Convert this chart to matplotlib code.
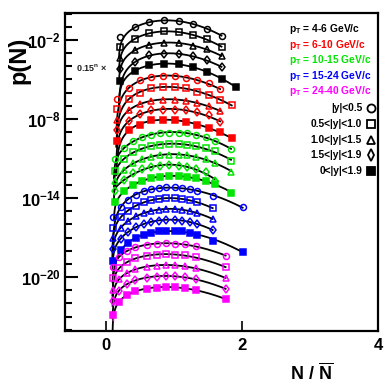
import numpy as np
import matplotlib
matplotlib.use('Agg')
import matplotlib.pyplot as plt
from matplotlib.ticker import FixedLocator, FuncFormatter, NullFormatter

plt.rcParams['font.family'] = ['Liberation Sans', 'DejaVu Sans']
plt.rcParams['font.weight'] = 'bold'
plt.rcParams['mathtext.fontset'] = 'custom'
plt.rcParams['mathtext.rm'] = 'Liberation Sans:bold'
plt.rcParams['mathtext.bf'] = 'Liberation Sans:bold'
plt.rcParams['mathtext.it'] = 'Liberation Sans:bold'
plt.rcParams['mathtext.sf'] = 'Liberation Sans:bold'

# ---------------- data (log10 of unscaled p(N)) ----------------
pt_bins = ["4-6", "6-10", "10-15", "15-24", "24-40"]
pt_colors = ["#000000", "#ff0000", "#00e600", "#0000ff", "#ff00ff"]
y_bins = ["|y|<0.5", "0.5<|y|<1.0", "1.0<|y|<1.5", "1.5<|y|<1.9", "0<|y|<1.9"]
scale_base = 0.15

x_pt1 = [0.21, 0.43, 0.64, 0.85, 1.07, 1.28, 1.49, 1.70, 1.92]
x_pt2 = [0.17, 0.34, 0.50, 0.67, 0.84, 1.01, 1.18, 1.34, 1.51, 1.68, 1.85]
x_pt3 = [0.13, 0.27, 0.40, 0.53, 0.67, 0.80, 0.93, 1.07, 1.20, 1.33, 1.47, 1.60, 1.84]
x_pt4 = [0.107, 0.22, 0.32, 0.45, 0.56, 0.67, 0.78, 0.89, 1.01, 1.12, 1.24, 1.34, 1.57, 2.01]
x_pt5 = [0.108, 0.196, 0.304, 0.426, 0.61, 0.745, 0.88, 1.015, 1.16, 1.33, 1.76]

logp_pt1 = [
    [-1.77, -1.04, -0.66, -0.50, -0.56, -0.81, -1.14, -1.67],
    [-1.71, -1.08, -0.67, -0.52, -0.57, -0.82, -1.13, -1.69],
    [-1.69, -1.13, -0.71, -0.56, -0.58, -0.79, -1.06, -1.57],
    [-1.71, -1.20, -0.69, -0.57, -0.59, -0.77, -1.07, -1.58],
    [-1.79, -1.03, -0.62, -0.52, -0.55, -0.75, -1.11, -1.68, -2.29],
]
logp_pt2 = [
    [-2.34, -1.52, -0.95, -0.70, -0.61, -0.61, -0.73, -0.92, -1.17, -1.64],
    [-2.30, -1.52, -1.05, -0.70, -0.63, -0.63, -0.70, -1.00, -1.24, -1.59, -2.01],
    [-2.28, -1.57, -1.09, -0.84, -0.76, -0.76, -0.84, -1.01, -1.24, -1.64],
    [-2.27, -1.58, -1.03, -0.75, -0.70, -0.70, -0.75, -0.91, -1.14, -1.64],
    [-2.25, -1.44, -1.01, -0.68, -0.63, -0.68, -0.81, -1.01, -1.26, -1.57, -2.06],
]
logp_pt3 = [
    [-2.82, -1.98, -1.43, -1.13, -0.95, -0.84, -0.79, -0.79, -0.84, -0.95, -1.13, -1.40, -2.06],
    [-2.85, -1.98, -1.44, -1.14, -0.99, -0.91, -0.87, -0.87, -0.91, -0.99, -1.14, -1.40, -2.10],
    [-2.80, -2.00, -1.45, -1.15, -0.98, -0.88, -0.83, -0.83, -0.88, -0.98, -1.15, -1.42, -2.11],
    [-2.78, -1.95, -1.42, -1.12, -0.96, -0.86, -0.82, -0.84, -0.92, -1.05, -1.30, -2.00],
    [-2.80, -1.97, -1.44, -1.14, -0.97, -0.87, -0.82, -0.82, -0.87, -0.97, -1.14, -1.40, -2.05],
]
logp_pt4 = [
    [-3.10, -2.30, -1.80, -1.40, -1.12, -0.97, -0.88, -0.83, -0.83, -0.88, -0.97, -1.12, -1.50, -2.34],
    [-3.10, -2.28, -1.78, -1.40, -1.13, -0.98, -0.89, -0.84, -0.84, -0.89, -0.98, -1.13, -1.60],
    [-3.05, -2.25, -1.76, -1.38, -1.12, -0.97, -0.88, -0.84, -0.84, -0.88, -0.97, -1.12, -1.60],
    [-3.05, -2.25, -1.76, -1.38, -1.12, -0.97, -0.88, -0.84, -0.84, -0.88, -0.97, -1.12, -1.62],
    [-3.10, -2.30, -1.80, -1.40, -1.12, -0.97, -0.88, -0.83, -0.83, -0.88, -0.97, -1.12, -1.60, -2.41],
]
logp_pt5 = [
    [-2.73, -2.00, -1.55, -1.27, -1.08, -1.00, -0.97, -0.98, -1.03, -1.20, -1.90],
    [-2.80, -2.05, -1.57, -1.28, -1.09, -1.01, -0.98, -0.99, -1.04, -1.21, -1.96],
    [-2.85, -2.05, -1.58, -1.28, -1.09, -1.01, -0.98, -0.99, -1.04, -1.21, -1.96],
    [-2.90, -2.08, -1.60, -1.29, -1.10, -1.02, -0.99, -1.00, -1.05, -1.22, -1.96],
    [-3.12, -2.10, -1.62, -1.30, -1.10, -1.03, -1.00, -1.01, -1.06, -1.22, -1.91],
]
# error bars (in decades) on the first point of the highest-pT rows
err_first_pt5 = [0.10, 0.15, 0.20, 0.30, 0.35]

x_all = [x_pt1, x_pt2, x_pt3, x_pt4, x_pt5]
logp_all = [logp_pt1, logp_pt2, logp_pt3, logp_pt4, logp_pt5]

# ---------------- figure ----------------
W, H = 387, 391
fig = plt.figure(figsize=(W / 100, H / 100), dpi=100)
L, R, T, B = 65, 378, 13, 331
ax = fig.add_axes([L / W, 1 - B / H, (R - L) / W, (B - T) / H])
ax.set_yscale('log')
ax.set_xlim(-0.6, 4.0)
ax.set_ylim(10 ** -24.1, 10 ** 0.05)

markers = ['o', 's', '^', 'd', 's']
filled = [False, False, False, False, True]
msizes = [4.3, 4.1, 4.5, 4.3, 3.9]


def design(x, x0):
    return np.vstack([np.ones_like(x), np.log(x - x0), x, x ** 2]).T


for ip, (xs_pt, lps) in enumerate(zip(x_all, logp_all)):
    col = pt_colors[ip]
    for iy, lp in enumerate(lps):
        n = 5 * ip + iy
        x = np.array(xs_pt[:len(lp)])
        lp = np.array(lp)
        shift = n * np.log10(scale_base)
        # threshold-type fit (first bin excluded) in log space
        x0 = 0.9 * x[0]
        coef, *_ = np.linalg.lstsq(design(x[1:], x0), lp[1:], rcond=None)
        xf = x0 + np.geomspace(0.02 * x[0], x[-1] - x0, 600)
        yf = design(xf, x0) @ coef + shift
        ax.plot(xf, 10 ** yf, color='black', lw=1.3, zorder=2)
        yv = 10 ** (lp + shift)
        ax.plot(x, yv, ls='none', marker=markers[iy],
                ms=msizes[iy], mew=1.1, mec=col,
                mfc=col if filled[iy] else 'none', zorder=3)
        if ip == 4:
            e = err_first_pt5[iy]
            ax.plot([x[0], x[0]], [yv[0] * 10 ** -e, yv[0] * 10 ** e],
                    color=col, lw=1.0, zorder=3)

# ticks
ax.yaxis.set_major_locator(FixedLocator([1e-2, 1e-8, 1e-14, 1e-20]))
ax.yaxis.set_minor_locator(FixedLocator([10.0 ** k for k in range(-24, 1)]))
ax.yaxis.set_minor_formatter(NullFormatter())
ax.yaxis.set_major_formatter(FuncFormatter(
    lambda v, p: r'$\mathbf{10^{%d}}$' % int(round(np.log10(v)))))
ax.xaxis.set_major_locator(FixedLocator([0, 2, 4]))
ax.xaxis.set_major_formatter(FuncFormatter(lambda v, p: '%d' % v))
ax.tick_params(axis='y', which='major', direction='in', length=9, width=1.5,
               labelsize=12, pad=3, right=False)
ax.tick_params(axis='y', which='minor', direction='in', length=5, width=1.5, right=False)
ax.tick_params(axis='x', which='major', direction='in', length=7, width=1.2,
               labelsize=12, pad=5, top=False)
ax.tick_params(axis='x', which='minor', bottom=False)
for s in ax.spines.values():
    s.set_linewidth(1.6)

# axis labels
fig.text(19 / W, 1 - 60 / H, 'p(N)', rotation=90, ha='center', va='center',
         fontsize=17, fontweight='bold')
fig.text(312 / W, 1 - 373 / H, r'$\mathbf{N\ /\ \overline{N}}$', ha='center',
         va='center', fontsize=13)

# scale annotation
ax.text(0.035, 0.828, r'0.15$^{\mathbf{n}}$ $\times$', transform=ax.transAxes,
        fontsize=6.5, ha='left', va='center', color='#222222')

# legend: pT bins
ty = [29, 45, 60, 76, 91]
for ip in range(5):
    ax.text((289 - L) / (R - L), (B - ty[ip]) / (B - T),
            r'$\mathbf{p_T}$ = %s GeV/c' % pt_bins[ip], transform=ax.transAxes,
            color=pt_colors[ip], fontsize=7.4, fontweight='bold',
            ha='left', va='center')
# legend: rapidity bins
ry = [108, 124, 140, 155, 171]
for iy in range(5):
    ax.text((362 - L) / (R - L), (B - ry[iy]) / (B - T), y_bins[iy],
            transform=ax.transAxes, fontsize=7.4, fontweight='bold',
            ha='right', va='center')
    ax.plot([(371 - L) / (R - L)], [(B - ry[iy]) / (B - T)], transform=ax.transAxes,
            marker=markers[iy], ms=5.8, mew=1.3, mec='black',
            mfc='black' if filled[iy] else 'none', ls='none', clip_on=False)

fig.savefig('out.png', dpi=100)
